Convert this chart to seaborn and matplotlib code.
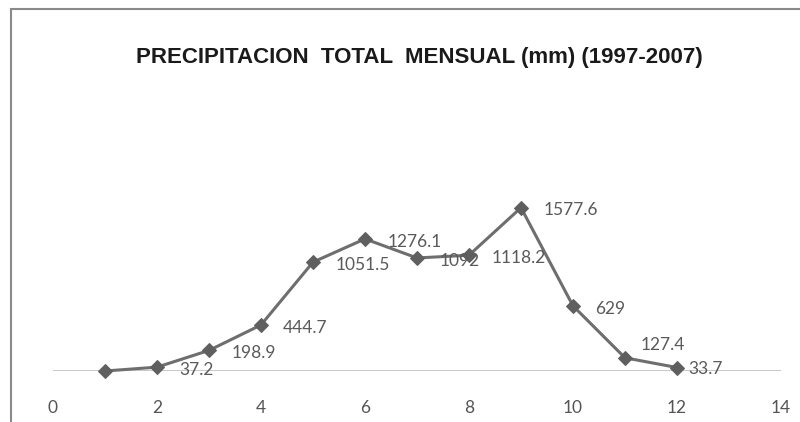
import matplotlib
matplotlib.use("Agg")
import matplotlib.pyplot as plt
import seaborn as sns
import pandas as pd
from matplotlib.patches import Rectangle

months = [1, 2, 3, 4, 5, 6, 7, 8, 9, 10, 11, 12]
precip = [0, 37.2, 198.9, 444.7, 1051.5, 1276.1, 1092, 1118.2, 1577.6, 629, 127.4, 33.7]
xticks = [0, 2, 4, 6, 8, 10, 12, 14]
title = "PRECIPITACION  TOTAL  MENSUAL (mm) (1997-2007)"

df = pd.DataFrame({"mes": months, "pp": precip})

sns.set_style("white")
plt.rcParams["font.family"] = ["Lato", "DejaVu Sans"]

fig = plt.figure(figsize=(8, 4.22), dpi=100)
ax = fig.add_axes([53 / 800, 51 / 422, 728 / 800, 176 / 422])

sns.lineplot(data=df, x="mes", y="pp", ax=ax, color="#6e6e6e", linewidth=2.2,
             marker="D", markersize=7, markerfacecolor="#5f5f5f",
             markeredgecolor="#5f5f5f", clip_on=False)

for m, v in zip(months, precip):
    if v == 0:
        continue
    off = (16, -2)
    if m == 11:
        off = (11, 9)   # this one sits above-right in the original
    elif m == 12:
        off = (8, -1)
    ax.annotate(f"{v:g}", (m, v), xytext=off, textcoords="offset points",
                ha="left", va="center", fontsize=12.5, color="#5a5a5a")

ax.axhline(0, color="#c4c4c4", linewidth=1.3, zorder=0)
ax.set_xlim(0, 14)
ax.set_ylim(0, 1700)
ax.set_xticks(xticks)
ax.set_xticklabels([str(t) for t in xticks], fontsize=12.5, color="#555555")
ax.tick_params(axis="x", length=0, pad=21)
ax.set_yticks([])
ax.set_xlabel("")
ax.set_ylabel("")
sns.despine(ax=ax, left=True, bottom=True)

fig.text(419 / 800, 1 - 57 / 422, title, ha="center", va="center",
         fontsize=16, fontweight="bold", color="#1a1a1a",
         family=["Liberation Sans Narrow", "Liberation Sans", "DejaVu Sans"])

# chart frame (cut off at right/bottom)
fig.patches.append(Rectangle((11 / 800, -0.1), 1.2, 1 - 9 / 422 + 0.1,
                             transform=fig.transFigure, fill=False,
                             edgecolor="#8a8a8a", linewidth=1.5))

fig.savefig("out.png", dpi=100)
